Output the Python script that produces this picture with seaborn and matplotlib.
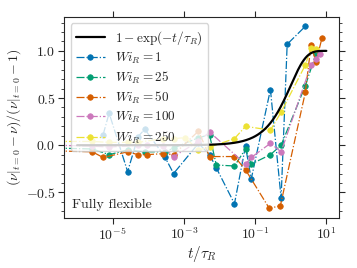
import numpy as np
import matplotlib
matplotlib.use("Agg")
import matplotlib.pyplot as plt
import matplotlib.ticker as mticker
import seaborn as sns

# %% Data (log10 of t/tau_R, relaxation values)
wi_labels = [1, 25, 50, 100, 250]
colors = ['#0173b2', '#029e73', '#d55e00', '#cc78bc', '#ece133']

logt_wi1 = [-5.27, -5.10, -4.58, -4.29, -4.10, -3.54, -3.29, -2.59, -2.28, -2.09,
            -1.58, -1.27, -1.11, -0.57, -0.27, -0.10, 0.41]
y_wi1 = [0.11, 0.34, -0.28, 0.09, 0.17, -0.12, -0.30, 0.02, -0.10, -0.24,
         -0.62, -0.01, -0.36, 0.59, -0.56, 1.07, 1.26]

logt_wi25 = [-6.6, -5.57, -5.10, -4.58, -4.10, -3.54, -3.29, -2.59, -2.28, -2.09,
             -1.58, -1.27, -1.11, -0.57, -0.27, 0.41, 0.71]
y_wi25 = [-0.03, -0.04, -0.10, -0.05, -0.07, -0.07, -0.03, 0.08, 0.11, -0.21,
          -0.22, -0.04, -0.20, -0.10, 0.00, 0.63, 0.97]

logt_wi50 = [-6.6, -5.57, -5.27, -4.58, -4.29, -4.05, -3.60, -3.29, -2.59, -2.28,
             -1.58, -1.27, -0.60, -0.29, 0.41, 0.57, 0.71, 0.88]
y_wi50 = [-0.06, -0.07, -0.13, -0.07, -0.10, -0.10, -0.09, -0.10, 0.15, -0.12,
          -0.12, -0.26, -0.67, -0.64, 0.56, 1.06, 0.88, 1.14]

logt_wi100 = [-6.6, -5.57, -5.10, -4.29, -4.05, -3.60, -3.29, -2.59, -2.28, -1.27,
              -1.11, -0.57, -0.27, 0.57, 0.71, 0.82]
y_wi100 = [0.00, -0.01, -0.02, 0.00, 0.00, -0.01, -0.12, 0.04, 0.14, -0.20,
           -0.13, 0.02, -0.07, 0.85, 0.91, 0.97]

logt_wi250 = [-6.6, -5.57, -5.10, -4.58, -4.29, -3.60, -3.29, -2.97, -2.59, -2.28,
              -1.58, -1.27, -0.57, -0.27, 0.41, 0.57, 0.71]
y_wi250 = [0.04, 0.04, 0.03, 0.03, 0.03, 0.07, 0.07, 0.08, -0.05, -0.02,
           0.07, 0.20, 0.16, 0.35, 0.85, 1.03, 1.02]

series = [(logt_wi1, y_wi1), (logt_wi25, y_wi25), (logt_wi50, y_wi50),
          (logt_wi100, y_wi100), (logt_wi250, y_wi250)]

# %% Plot
sns.set_style("ticks")
plt.rcParams['font.family'] = ['cmr10', 'DejaVu Serif']
plt.rcParams['mathtext.fontset'] = 'cm'
plt.rcParams['axes.formatter.use_mathtext'] = True
plt.rcParams['axes.unicode_minus'] = False

fig = plt.figure(figsize=(3.57, 2.68), dpi=100)
ax = fig.add_axes([0.179, 0.187, 0.771, 0.750])

t_fit = np.logspace(-6, 1, 300)
sns.lineplot(x=t_fit, y=1 - np.exp(-t_fit), color='black', linewidth=1.6,
             label=r'$1-\exp(-t/\tau_R)$', ax=ax, zorder=5)

for (lt, yy), wi, c in zip(series, wi_labels, colors):
    sns.lineplot(x=10 ** np.array(lt), y=yy, color=c, linestyle='-.', linewidth=0.9,
                 marker='o', markersize=4, markeredgecolor=c, markeredgewidth=0.5,
                 sort=False, label=rf'$Wi_R={wi}$', ax=ax)

ax.set_xscale('log')
ax.set_xlim(10 ** -6.37, 10 ** 1.36)
ax.set_ylim(-0.77, 1.36)
ax.xaxis.set_major_locator(mticker.FixedLocator([1e-5, 1e-3, 1e-1, 1e1]))
ax.xaxis.set_minor_locator(mticker.NullLocator())
ax.yaxis.set_major_locator(mticker.MultipleLocator(0.5))
ax.yaxis.set_minor_locator(mticker.MultipleLocator(0.1))
ax.yaxis.set_major_formatter(mticker.FormatStrFormatter(r'$%.1f$'))
ax.tick_params(which='both', top=True, right=True, direction='out', labelsize=10)
ax.tick_params(which='major', length=4, pad=2)
ax.tick_params(which='minor', length=2)

ax.set_xlabel(r'$t/\tau_R$', fontsize=11, labelpad=1)
ax.set_ylabel(r'$(\nu|_{t=0}-\nu)/(\nu|_{t=0}-1)$', fontsize=10, labelpad=2)
ax.text(0.03, 0.05, 'Fully flexible', transform=ax.transAxes, fontsize=10)

ax.legend(loc='upper left', fontsize=9.5, frameon=True, handlelength=2.2,
          borderpad=0.4, labelspacing=0.3)

fig.savefig('out.png', dpi=100)
